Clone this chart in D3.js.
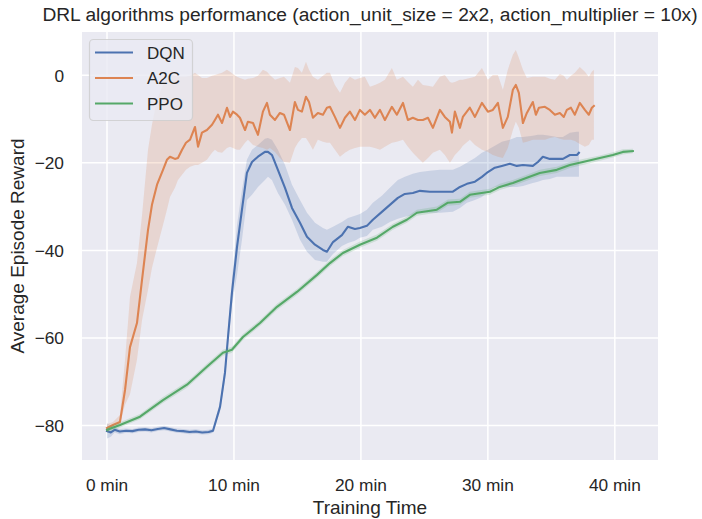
<!DOCTYPE html>
<html>
<head>
<meta charset="utf-8">
<script src="https://cdn.jsdelivr.net/npm/d3@7"></script>
<style>
  body { margin: 0; background: #ffffff; }
  text { font-family: "Liberation Sans", Arial, sans-serif; fill: #262626; }
</style>
</head>
<body>
<svg id="chart" width="702" height="519"></svg>
<script>
// ---- data (minutes of training vs. average episode reward) ----
const seriesNames = ["DQN", "A2C", "PPO"];
const seriesColors = ["#4C72B0", "#DD8452", "#55A868"];

const xTicks = [0, 10, 20, 30, 40];
const xTickLabels = ["0 min", "10 min", "20 min", "30 min", "40 min"];
const yTicks = [-80, -60, -40, -20, 0];
const yTickLabels = ["\u221280", "\u221260", "\u221240", "\u221220", "0"];

const dqnTime = [0.00,0.30,0.60,1.00,1.50,2.00,2.50,3.00,3.50,4.00,4.50,5.00,5.50,6.00,6.50,7.00,7.50,8.00,8.35,
  8.90,9.29,9.53,9.84,10.24,10.63,11.02,11.42,11.89,12.44,12.68,12.99,13.46,14.02,14.57,15.20,15.75,16.38,17.01,17.32,
  17.80,18.50,18.98,19.53,19.92,20.47,20.94,21.65,22.28,22.91,23.46,24.09,24.65,25.43,26.22,27.24,27.80,28.35,28.98,29.53,
  30.00,30.55,31.10,31.73,32.28,32.76,33.54,33.94,34.33,34.88,35.43,35.91,36.46,37.01,37.17];
const dqnMean = [-81.3,-81.6,-81.0,-81.4,-81.2,-81.3,-81.0,-80.9,-81.1,-80.8,-80.6,-80.9,-81.2,-81.3,-81.5,-81.4,-81.6,-81.5,-81.2,
  -75.8,-68.0,-59.8,-49.7,-39.2,-30.7,-22.3,-19.8,-18.6,-17.5,-17.5,-18.2,-21.6,-25.7,-30.3,-33.7,-36.9,-38.7,-39.9,-40.3,
  -38.1,-36.5,-34.6,-35.1,-34.9,-34.4,-33.0,-31.2,-29.6,-28.0,-27.1,-26.9,-26.4,-26.6,-26.6,-26.6,-25.5,-24.8,-24.3,-23.2,
  -22.1,-21.1,-20.7,-20.2,-20.7,-20.5,-20.7,-19.8,-18.6,-19.1,-19.1,-19.1,-18.2,-18.2,-17.7];
const dqnHigh = [-79.5,-80.0,-80.4,-80.8,-80.7,-80.8,-80.5,-80.4,-80.6,-80.3,-80.1,-80.4,-80.7,-80.8,-81.0,-80.9,-81.1,-81.0,-80.7,
  -74.6,-66.4,-57.7,-46.7,-34.2,-26.2,-19.3,-17.0,-15.9,-14.5,-14.3,-14.7,-17.0,-20.5,-25.0,-28.5,-31.4,-33.7,-34.9,-35.3,
  -34.6,-33.5,-32.6,-32.1,-31.7,-30.7,-29.1,-27.5,-25.7,-23.9,-23.2,-22.5,-22.1,-21.8,-21.6,-21.6,-20.9,-20.0,-18.9,-17.7,
  -17.0,-16.1,-15.2,-14.7,-14.1,-14.1,-13.8,-13.6,-13.6,-13.8,-14.1,-14.1,-13.1,-12.9,-12.9];
const dqnLow = [-83.0,-82.6,-81.6,-82.0,-81.7,-81.8,-81.5,-81.4,-81.6,-81.3,-81.1,-81.4,-81.7,-81.8,-82.0,-81.9,-82.1,-82.0,-81.7,
  -76.9,-69.6,-61.6,-52.5,-45.6,-37.6,-28.5,-27.3,-25.5,-23.9,-23.2,-23.9,-26.9,-29.6,-33.0,-37.6,-40.3,-42.2,-42.6,-42.6,
  -40.8,-39.0,-38.3,-37.8,-37.1,-36.7,-35.3,-34.6,-33.5,-32.8,-32.3,-31.9,-31.4,-31.4,-31.4,-31.2,-30.3,-29.1,-28.5,-27.8,
  -26.6,-25.5,-25.5,-25.5,-25.5,-25.3,-24.6,-24.3,-23.9,-23.7,-23.2,-23.2,-23.2,-23.2,-23.2];

const a2cTime = [0.00,0.47,1.02,1.42,1.81,2.36,2.76,3.23,3.54,3.94,4.41,4.72,4.96,5.35,5.59,5.91,6.22,6.54,6.93,7.17,
  7.48,7.87,8.27,8.50,8.74,9.06,9.45,9.69,9.92,10.24,10.47,10.87,11.10,11.50,11.89,12.28,12.60,12.83,13.23,13.62,
  13.94,14.41,14.80,15.04,15.35,15.67,15.91,16.22,16.61,17.01,17.32,17.56,17.95,18.35,18.74,19.13,19.53,19.92,20.31,20.71,
  21.10,21.50,21.89,22.44,22.83,23.31,23.70,24.09,24.49,24.88,25.28,25.67,26.22,26.61,27.01,27.17,27.40,27.80,28.03,28.58,
  28.98,29.53,30.00,30.39,30.79,31.18,31.57,31.97,32.20,32.44,32.76,33.07,33.54,33.78,34.02,34.49,34.88,35.28,35.67,35.98,
  36.22,36.54,36.85,37.24,37.64,37.95,38.19,38.35];
const a2cMean = [-80.6,-79.9,-79.2,-71.9,-62.1,-56.6,-46.7,-35.3,-29.6,-25.0,-21.6,-19.3,-18.6,-19.1,-18.9,-17.0,-15.4,-14.7,-11.8,-16.3,
  -13.1,-12.5,-11.3,-10.2,-9.0,-10.9,-7.4,-9.5,-8.3,-9.0,-9.7,-12.5,-10.6,-10.9,-13.6,-8.3,-6.3,-9.0,-10.2,-8.6,
  -9.0,-12.5,-6.1,-7.9,-8.3,-4.9,-6.1,-9.7,-8.6,-9.0,-7.4,-7.2,-9.5,-12.0,-9.7,-8.3,-10.2,-7.9,-9.0,-7.9,
  -9.7,-7.9,-10.2,-7.2,-9.0,-6.3,-10.2,-9.7,-10.2,-10.2,-9.7,-12.0,-7.9,-9.5,-10.6,-13.1,-8.3,-12.0,-9.5,-7.4,
  -9.5,-6.3,-8.3,-7.9,-6.3,-12.0,-9.5,-3.3,-2.2,-4.0,-10.9,-8.6,-6.1,-9.0,-7.4,-7.2,-7.9,-9.0,-8.6,-9.5,
  -7.9,-7.4,-9.0,-6.3,-7.9,-9.0,-7.4,-7.0];
const a2cHigh = [-79.7,-79.2,-77.6,-65.0,-50.6,-42.9,-31.9,-17.0,-11.3,-5.6,-2.2,-0.6,0.6,-0.1,-0.3,-0.3,-0.3,-0.1,0.6,0.1,
  -0.6,-0.6,-0.1,0.1,0.3,0.6,1.3,0.8,0.3,-0.3,-0.6,-1.0,-0.8,-0.6,-0.1,1.3,0.8,0.1,-1.0,-0.6,
  -0.3,-1.7,1.9,1.7,0.6,3.1,1.3,-0.3,-1.0,-0.1,0.6,0.6,-2.2,-4.0,-1.7,-0.3,-1.0,-0.6,-0.3,-2.6,
  -2.2,-1.7,-1.0,1.7,-1.0,-0.3,-1.5,-2.6,-1.0,-2.2,-2.4,-2.6,-0.3,0.1,-1.5,-1.7,-1.5,-1.0,-1.0,-0.6,
  -0.3,1.7,-1.0,0.1,0.1,-3.3,1.3,4.7,5.8,4.0,1.3,-0.6,-0.3,-0.3,-0.3,-0.3,-0.8,-1.0,0.3,-0.1,
  -1.0,-0.1,0.6,1.9,0.8,-0.3,0.8,1.3];
const a2cLow = [-81.5,-80.6,-79.7,-75.3,-72.9,-65.0,-55.9,-49.0,-44.0,-39.4,-34.2,-30.7,-27.8,-25.7,-23.9,-22.7,-21.6,-20.9,-20.5,-20.5,
  -20.0,-19.3,-17.7,-17.0,-17.5,-17.7,-16.6,-16.3,-16.6,-17.0,-17.0,-15.4,-14.7,-15.9,-16.3,-16.6,-17.0,-16.6,-17.5,-18.9,
  -19.8,-20.0,-16.6,-15.4,-14.3,-14.3,-15.4,-17.0,-14.7,-15.2,-15.4,-15.4,-17.0,-18.6,-17.7,-17.0,-16.6,-16.3,-16.3,-16.3,
  -16.6,-17.0,-16.3,-15.4,-15.2,-14.7,-16.3,-17.7,-18.9,-20.0,-18.9,-17.7,-17.0,-18.2,-20.0,-19.3,-18.2,-17.0,-16.1,-14.7,
  -15.9,-17.0,-17.5,-18.2,-18.6,-18.9,-16.6,-12.5,-10.6,-12.0,-15.4,-15.2,-14.7,-14.7,-14.7,-14.7,-14.3,-14.1,-14.5,-14.7,
  -14.7,-14.7,-15.0,-15.7,-16.3,-15.9,-14.7,-14.7];

const ppoTime = [0.00,1.02,2.60,4.41,6.30,7.87,9.13,9.84,10.71,12.05,13.39,14.96,16.54,17.56,18.58,19.92,21.26,22.52,
  23.62,24.41,25.98,26.85,27.80,28.58,30.16,30.94,31.97,33.07,34.09,35.43,36.46,37.48,38.82,39.84,40.63,41.42];
const ppoMean = [-81.0,-79.9,-78.0,-74.2,-70.7,-66.6,-63.4,-62.7,-59.8,-56.6,-52.9,-49.5,-45.6,-42.9,-40.6,-38.7,-37.1,-34.6,
  -33.0,-31.4,-30.7,-29.1,-28.9,-27.3,-26.6,-25.5,-24.6,-23.4,-22.3,-21.6,-20.5,-19.8,-18.9,-18.2,-17.5,-17.3];
const ppoHigh = [-80.4,-79.3,-77.4,-73.5,-70.0,-65.9,-62.7,-62.0,-59.1,-55.9,-52.2,-48.8,-44.9,-42.2,-39.9,-38.0,-36.4,-33.9,
  -32.3,-30.7,-30.0,-28.4,-28.2,-26.6,-25.9,-24.8,-23.9,-22.7,-21.6,-20.9,-19.8,-19.1,-18.3,-17.6,-16.9,-16.8];
const ppoLow = [-81.6,-80.5,-78.6,-74.9,-71.4,-67.3,-64.1,-63.4,-60.5,-57.3,-53.6,-50.2,-46.3,-43.6,-41.3,-39.4,-37.8,-35.3,
  -33.7,-32.1,-31.4,-29.8,-29.6,-28.0,-27.3,-26.2,-25.3,-24.1,-23.0,-22.3,-21.2,-20.5,-19.5,-18.8,-18.1,-17.8];

// ---- layout ----
const svg = d3.select("#chart");
const plot = { left: 82, right: 658, top: 32, bottom: 460 };
const x = d3.scaleLinear().domain([-1.97, 43.4]).range([plot.left, plot.right]);
const y = d3.scaleLinear().domain([-87.9, 9.9]).range([plot.bottom, plot.top]);

// axes background
svg.append("rect")
  .attr("x", plot.left).attr("y", plot.top)
  .attr("width", plot.right - plot.left).attr("height", plot.bottom - plot.top)
  .attr("fill", "#EAEAF2");

// white grid
const grid = svg.append("g").attr("stroke", "#ffffff").attr("stroke-width", 1.5);
grid.selectAll(".gx").data(xTicks).join("line")
  .attr("x1", d => x(d)).attr("x2", d => x(d))
  .attr("y1", plot.top).attr("y2", plot.bottom);
grid.selectAll(".gy").data(yTicks).join("line")
  .attr("x1", plot.left).attr("x2", plot.right)
  .attr("y1", d => y(d)).attr("y2", d => y(d));

// series: confidence band + mean line
const series = [
  { t: dqnTime, m: dqnMean, hi: dqnHigh, lo: dqnLow },
  { t: a2cTime, m: a2cMean, hi: a2cHigh, lo: a2cLow },
  { t: ppoTime, m: ppoMean, hi: ppoHigh, lo: ppoLow }
];

svg.append("clipPath").attr("id", "plotClip").append("rect")
  .attr("x", plot.left).attr("y", plot.top)
  .attr("width", plot.right - plot.left).attr("height", plot.bottom - plot.top);

const layer = svg.append("g").attr("clip-path", "url(#plotClip)");

series.forEach((s, i) => {
  const rows = s.t.map((t, k) => ({ t, m: s.m[k], hi: s.hi[k], lo: s.lo[k] }));
  const band = d3.area().x(d => x(d.t)).y0(d => y(d.lo)).y1(d => y(d.hi));
  const line = d3.line().x(d => x(d.t)).y(d => y(d.m));
  layer.append("path").datum(rows)
    .attr("d", band)
    .attr("fill", seriesColors[i]).attr("fill-opacity", 0.2);
  layer.append("path").datum(rows)
    .attr("d", line)
    .attr("fill", "none")
    .attr("stroke", seriesColors[i]).attr("stroke-width", 2.1)
    .attr("stroke-linejoin", "round").attr("stroke-linecap", "square");
});

// tick labels
svg.append("g").selectAll("text").data(xTicks).join("text")
  .attr("x", d => x(d)).attr("y", 491)
  .attr("text-anchor", "middle").attr("font-size", "17.3px")
  .text((d, i) => xTickLabels[i]);
svg.append("g").selectAll("text").data(yTicks).join("text")
  .attr("x", 64).attr("y", d => y(d)).attr("dy", "0.36em")
  .attr("text-anchor", "end").attr("font-size", "17.3px")
  .text((d, i) => yTickLabels[i]);

// axis titles and chart title
svg.append("text")
  .attr("x", (plot.left + plot.right) / 2).attr("y", 514)
  .attr("text-anchor", "middle").attr("font-size", "19px")
  .text("Training Time");
svg.append("text")
  .attr("transform", `translate(24,${(plot.top + plot.bottom) / 2}) rotate(-90)`)
  .attr("text-anchor", "middle").attr("font-size", "19px")
  .text("Average Episode Reward");
svg.append("text")
  .attr("x", (plot.left + plot.right) / 2).attr("y", 21)
  .attr("text-anchor", "middle").attr("font-size", "19.2px")
  .text("DRL algorithms performance (action_unit_size = 2x2, action_multiplier = 10x)");

// legend
const legend = svg.append("g");
legend.append("rect")
  .attr("x", 89.5).attr("y", 39.5).attr("width", 103).attr("height", 81).attr("rx", 4)
  .attr("fill", "#EAEAF2").attr("fill-opacity", 0.8)
  .attr("stroke", "#CCCCCC").attr("stroke-opacity", 0.8).attr("stroke-width", 1.2);
seriesNames.forEach((name, i) => {
  const cy = 52.5 + i * 25.5;
  legend.append("line")
    .attr("x1", 95).attr("x2", 133).attr("y1", cy).attr("y2", cy)
    .attr("stroke", seriesColors[i]).attr("stroke-width", 2.1);
  legend.append("text")
    .attr("x", 147).attr("y", cy).attr("dy", "0.36em")
    .attr("font-size", "17px")
    .text(name);
});
</script>
</body>
</html>
